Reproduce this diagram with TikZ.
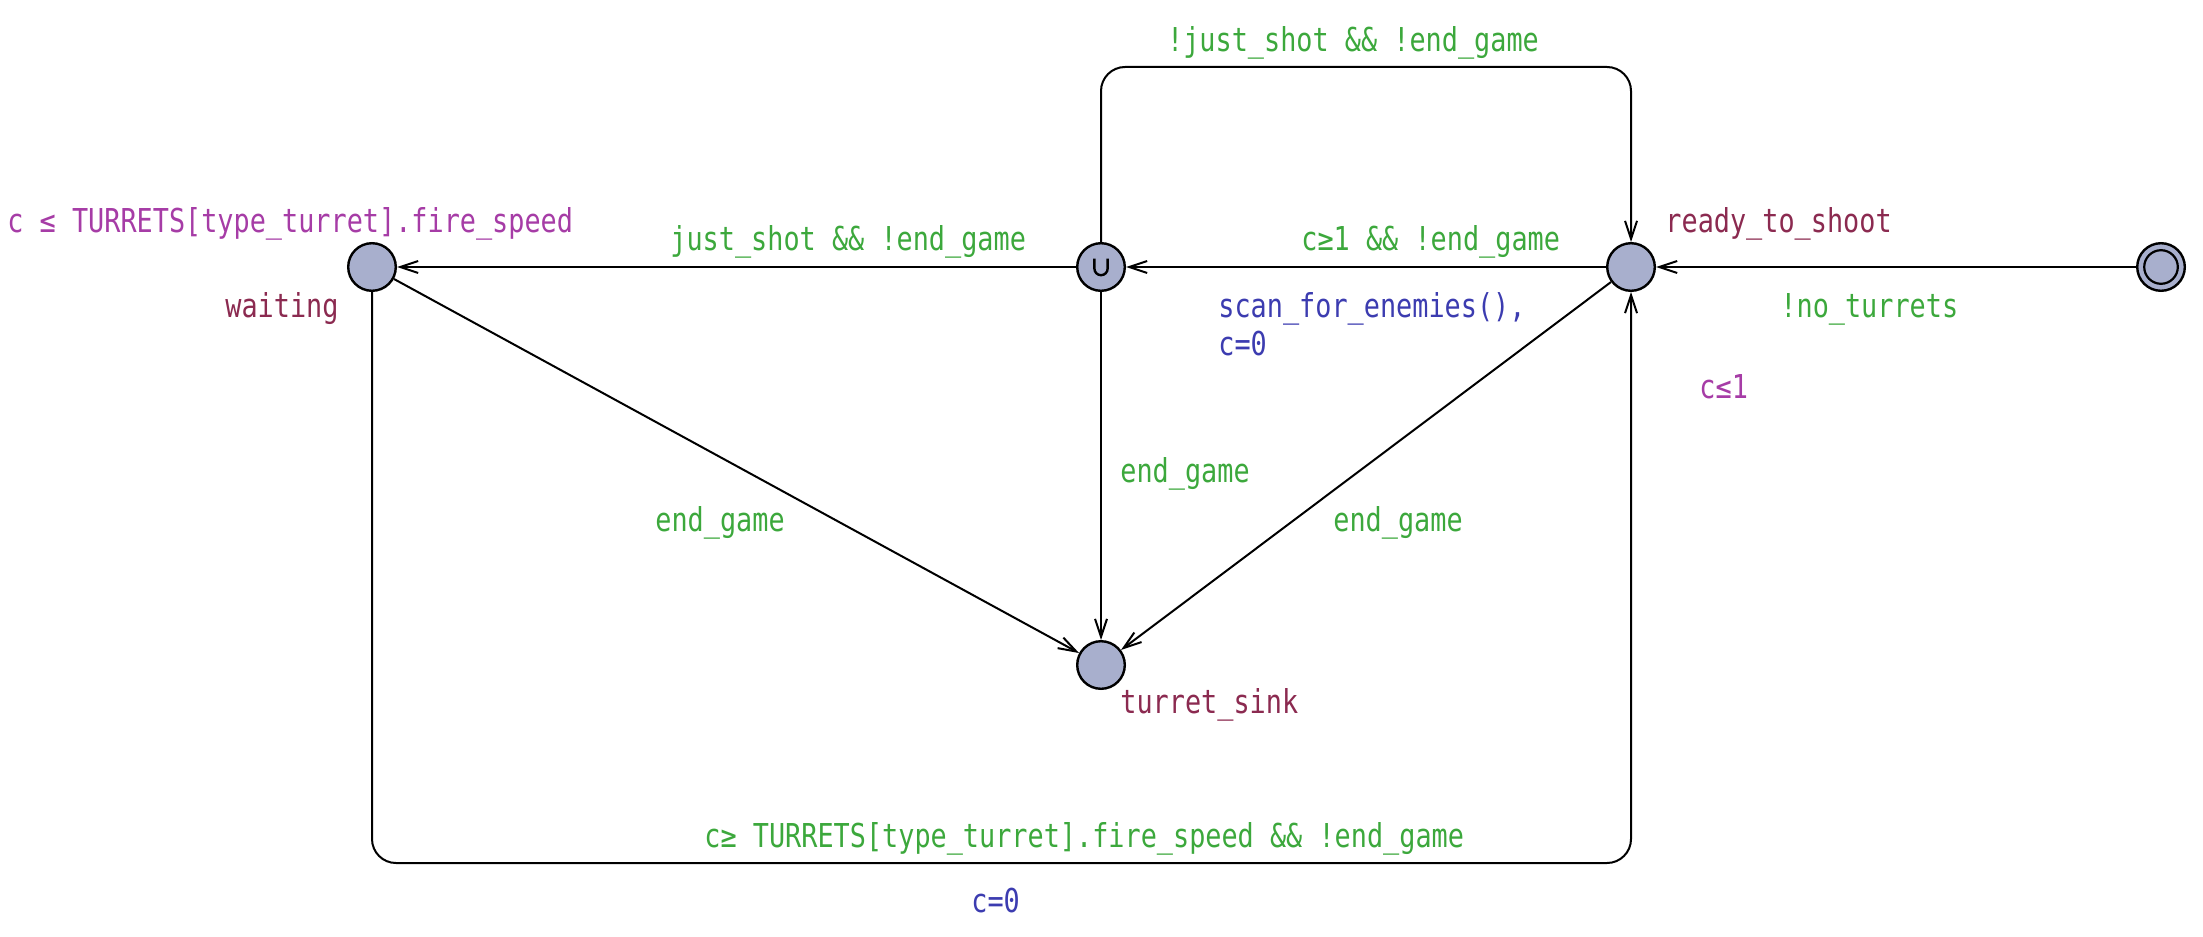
\documentclass[tikz,border=0pt]{standalone}
\usepackage{fontspec}
\newfontfamily\upmono[FakeStretch=0.816]{DejaVu Sans Mono}
\usetikzlibrary{arrows.meta}
\definecolor{guardc}{RGB}{60,168,60}
\definecolor{invc}{RGB}{166,60,166}
\definecolor{namec}{RGB}{139,42,80}
\definecolor{assignc}{RGB}{60,60,176}
\definecolor{locfill}{RGB}{168,175,205}
\begin{document}
\begin{tikzpicture}[x=0.5pt,y=-0.5pt,
  loc/.style={circle,draw=black,fill=locfill,line width=1.2pt,minimum size=23.8pt,inner sep=0pt},
  edge/.style={line width=1pt,-{Straight Barb[length=9pt,width=6pt]}},
  txt/.style={font=\upmono\fontsize{16.45}{19}\selectfont,inner sep=0pt,anchor=base west},
  guard/.style={txt,text=guardc},
  inv/.style={txt,text=invc},
  lname/.style={txt,text=namec},
  assign/.style={txt,text=assignc}]
\useasboundingbox (0,0) rectangle (2203,936);
% locations
\node[loc] (waiting) at (372,267) {};
\node[loc] (committed) at (1101,267) {};
\node[loc] (ready) at (1631,267) {};
\node[loc] (init) at (2161,267) {};
\node[loc] (sink) at (1101,665) {};
\draw[line width=1.1pt] (init) circle[radius=8.4pt];
\draw[line width=1.2pt] ([shift={(-3.3pt,4.2pt)}]committed.center) -- ++(0,-5pt) arc[start angle=180,end angle=360,radius=3.3pt] -- ++(0,5pt);
% route corners
\coordinate (t1) at (1101,67);
\coordinate (t2) at (1631,67);
\coordinate (b1) at (372,863);
\coordinate (b2) at (1631,863);
% edges
\draw[edge] (init) -- (ready);
\draw[edge] (ready) -- (committed);
\draw[edge] (committed) -- (waiting);
\draw[edge,rounded corners=12pt] (committed) -- (t1) -- (t2) -- (ready);
\draw[edge,rounded corners=12pt] (waiting) -- (b1) -- (b2) -- (ready);
\draw[edge] (waiting) -- (sink);
\draw[edge] (committed) -- (sink);
\draw[edge] (ready) -- (sink);
% labels
\node[guard,anchor=base] (l1) at (1353,52) {!just\_shot \&\& !end\_game};
\node[inv] (l2) at (7,233) {c ≤ TURRETS[type\_turret].fire\_speed};
\node[guard] (l3) at (670,250) {just\_shot \&\& !end\_game};
\node[guard] (l4) at (1301,250) {c≥1 \&\& !end\_game};
\node[lname] (l5) at (1665,233) {ready\_to\_shoot};
\node[lname] (l6) at (225,317) {waiting};
\node[assign] (l7) at (1218,317) {scan\_for\_enemies(),};
\node[assign] (l8) at (1218,355) {c=0};
\node[guard] (l9) at (1780,317) {!no\_turrets};
\node[inv] (l10) at (1699,398) {c≤1};
\node[guard] (l11) at (655,531) {end\_game};
\node[guard] (l12) at (1120,482) {end\_game};
\node[guard] (l13) at (1333,531) {end\_game};
\node[lname] (l14) at (1120,713) {turret\_sink};
\node[guard] (l15) at (704,847) {c≥ TURRETS[type\_turret].fire\_speed \&\& !end\_game};
\node[assign] (l16) at (971,912) {c=0};
\end{tikzpicture}
\end{document}
